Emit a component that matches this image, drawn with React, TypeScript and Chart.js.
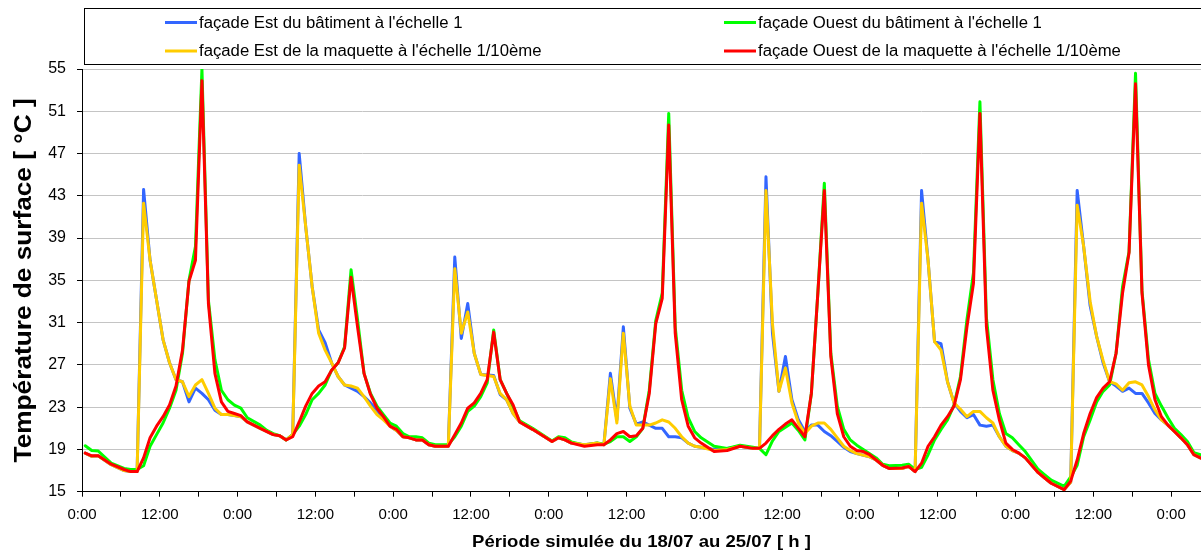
import React, { useEffect, useRef } from "react";
import { Chart, registerables } from "chart.js";

Chart.register(...registerables);

const FONT = '"Liberation Sans", Arial, Helvetica, sans-serif';

// ---- data (hour of simulated period, surface temperature °C) ----
const estBatiment: [number, number][] = [
  [0.5,18.65],[1.5,18.35],[2.5,18.4],[4.5,17.55],[6.5,17.0],[7.5,16.9],[8.5,16.9],[9.5,43.6],[10.5,36.9],[12.5,29.4],[13.5,27.2],[14.5,25.6],[15.5,25.4],[16.5,23.5],[17.5,24.8],[18.5,24.3],[19.5,23.7],[20.5,22.7],[21.5,22.3],[22.5,22.3],[23.5,22.2],[24.5,22.1],[25.5,21.6],[27.5,21.0],[29.5,20.4],[30.5,20.3],[31.5,19.9],[32.5,20.4],[33.5,47.0],[34.5,40.1],[35.5,34.4],[36.5,30.3],[37.5,29.1],[38.5,27.2],[39.5,25.9],[40.5,25.1],[41.5,24.8],[42.5,24.5],[43.5,24.0],[44.5,23.4],[45.5,22.7],[46.5,22.0],[47.5,21.2],[48.5,20.8],[49.5,20.2],[50.5,20.1],[51.5,19.9],[52.5,19.9],[53.5,19.45],[54.5,19.3],[56.5,19.3],[57.5,37.2],[58.5,29.5],[59.5,32.8],[60.5,28.1],[61.5,26.1],[63.5,26.0],[64.5,24.2],[65.5,23.7],[66.5,22.4],[67.5,21.6],[69.5,20.9],[72.5,19.75],[73.5,20.1],[74.5,19.9],[75.5,19.6],[77.5,19.45],[79.5,19.6],[80.5,19.45],[81.5,26.2],[82.5,21.8],[83.5,30.6],[84.5,22.9],[85.5,21.4],[86.5,21.6],[87.5,21.3],[88.5,21.0],[89.5,21.0],[90.5,20.2],[91.5,20.2],[92.5,20.1],[93.5,19.6],[94.5,19.3],[95.5,19.2],[97.5,19.0],[99.5,19.1],[101.5,19.3],[103.5,19.1],[104.5,19.1],[105.5,44.8],[106.5,30.0],[107.5,24.5],[108.5,27.8],[109.5,23.7],[110.5,21.8],[111.5,20.7],[112.5,21.3],[113.5,21.3],[114.5,20.7],[115.5,20.3],[116.5,19.75],[117.5,19.2],[118.5,18.8],[119.5,18.6],[121.5,18.3],[122.5,18.0],[123.5,17.5],[124.5,17.2],[126.5,17.2],[127.5,17.4],[128.5,16.9],[129.5,43.5],[130.5,36.9],[131.5,29.2],[132.5,29.0],[133.5,25.4],[134.5,23.4],[135.5,22.6],[136.5,22.0],[137.5,22.3],[138.5,21.3],[139.5,21.2],[140.5,21.3],[141.5,20.2],[142.5,19.3],[143.5,18.9],[144.5,18.65],[145.5,18.2],[147.5,16.8],[148.5,16.3],[149.5,15.8],[151.5,15.2],[152.5,15.9],[153.5,43.5],[154.5,38.2],[155.5,32.6],[156.5,29.7],[157.5,27.2],[158.5,25.4],[159.5,25.0],[160.5,24.5],[161.5,24.8],[162.5,24.3],[163.5,24.3],[164.5,23.4],[165.5,22.4],[166.5,21.8],[167.5,21.3],[168.5,20.7],[169.5,20.1],[170.5,19.45],[171.5,18.5],[172.5,18.2],[173.5,18.0],
];

const ouestBatiment: [number, number][] = [
  [0.5,19.35],[1.5,18.9],[2.5,18.85],[4.5,17.7],[6.5,17.2],[7.5,17.1],[8.5,17.1],[9.5,17.45],[10.5,19.3],[11.5,20.4],[12.5,21.5],[13.5,22.9],[14.5,24.6],[15.5,28.1],[16.5,35.0],[17.5,38.2],[18.5,55.0],[19.5,33.1],[20.5,27.5],[21.5,24.6],[22.5,23.7],[23.5,23.2],[24.5,22.9],[25.5,22.0],[27.5,21.3],[28.5,20.8],[29.5,20.5],[30.5,20.3],[31.5,19.9],[32.5,20.4],[33.5,21.2],[34.5,22.3],[35.5,23.7],[36.5,24.3],[37.5,25.1],[38.5,26.5],[39.5,27.2],[40.5,28.7],[41.5,36.0],[42.5,31.3],[43.5,26.2],[44.5,24.3],[45.5,23.1],[46.5,22.3],[47.5,21.5],[48.5,21.2],[49.5,20.5],[50.5,20.2],[51.5,20.2],[52.5,20.1],[53.5,19.6],[54.5,19.45],[56.5,19.45],[57.5,20.2],[58.5,21.2],[59.5,22.6],[60.5,23.1],[61.5,24.0],[62.5,25.3],[63.5,30.3],[64.5,25.6],[65.5,24.3],[66.5,23.0],[67.5,21.7],[69.5,21.0],[72.5,19.8],[73.5,20.2],[74.5,20.1],[75.5,19.7],[77.5,19.4],[79.5,19.6],[80.5,19.5],[81.5,19.75],[82.5,20.2],[83.5,20.2],[84.5,19.75],[85.5,20.2],[86.5,21.0],[87.5,24.6],[88.5,31.2],[89.5,33.8],[90.5,50.8],[91.5,30.6],[92.5,24.6],[93.5,22.0],[94.5,20.7],[95.5,20.1],[97.5,19.3],[99.5,19.1],[101.5,19.4],[103.5,19.2],[104.5,19.1],[105.5,18.5],[106.5,19.8],[107.5,20.7],[108.5,21.1],[109.5,21.5],[110.5,20.8],[111.5,19.9],[112.5,24.3],[113.5,33.8],[114.5,44.2],[115.5,28.1],[116.5,23.1],[117.5,20.9],[118.5,19.9],[119.5,19.4],[121.5,18.6],[122.5,18.2],[123.5,17.6],[124.5,17.45],[126.5,17.5],[127.5,17.6],[128.5,17.1],[129.5,17.3],[130.5,18.5],[131.5,19.9],[132.5,20.9],[133.5,21.8],[134.5,23.2],[135.5,25.9],[136.5,31.3],[137.5,35.7],[138.5,51.9],[139.5,31.5],[140.5,25.6],[141.5,22.4],[142.5,20.5],[143.5,20.1],[144.5,19.45],[145.5,18.8],[147.5,17.1],[148.5,16.6],[149.5,16.1],[151.5,15.5],[152.5,16.4],[153.5,17.5],[154.5,20.2],[155.5,21.8],[156.5,23.5],[157.5,24.5],[158.5,25.1],[159.5,28.1],[160.5,34.4],[161.5,37.7],[162.5,54.6],[163.5,34.0],[164.5,27.5],[165.5,24.3],[166.5,23.1],[167.5,22.0],[168.5,21.0],[169.5,20.4],[170.5,19.75],[171.5,18.7],[172.5,18.5],[173.5,18.3],
];

const estMaquette: [number, number][] = [
  [0.5,18.65],[1.5,18.35],[2.5,18.4],[4.5,17.55],[6.5,17.0],[7.5,16.9],[8.5,16.9],[9.5,42.3],[10.5,36.9],[12.5,29.4],[13.5,27.2],[14.5,25.6],[15.5,25.4],[16.5,24.0],[17.5,25.1],[18.5,25.6],[19.5,24.3],[20.5,22.9],[21.5,22.3],[22.5,22.3],[23.5,22.2],[24.5,22.1],[25.5,21.6],[27.5,21.0],[29.5,20.4],[30.5,20.3],[31.5,19.9],[32.5,20.4],[33.5,45.9],[34.5,40.1],[35.5,34.4],[36.5,30.0],[37.5,28.4],[38.5,27.2],[39.5,25.9],[40.5,25.1],[41.5,25.0],[42.5,24.8],[43.5,24.0],[44.5,23.1],[45.5,22.3],[46.5,21.8],[47.5,21.2],[48.5,20.8],[49.5,20.2],[50.5,20.1],[51.5,19.9],[52.5,19.9],[53.5,19.45],[54.5,19.3],[56.5,19.3],[57.5,36.1],[58.5,30.0],[59.5,32.0],[60.5,28.1],[61.5,26.1],[63.5,25.9],[64.5,24.3],[65.5,23.7],[66.5,22.4],[67.5,21.6],[69.5,20.9],[72.5,19.75],[73.5,20.1],[74.5,19.9],[75.5,19.6],[77.5,19.45],[79.5,19.6],[80.5,19.45],[81.5,25.7],[82.5,21.5],[83.5,30.0],[84.5,23.1],[85.5,21.3],[86.5,21.3],[87.5,21.3],[88.5,21.5],[89.5,21.8],[90.5,21.6],[91.5,21.0],[92.5,20.2],[93.5,19.6],[94.5,19.3],[95.5,19.2],[97.5,18.9],[99.5,19.0],[101.5,19.3],[103.5,19.1],[104.5,19.1],[105.5,43.5],[106.5,30.9],[107.5,24.5],[108.5,26.7],[109.5,23.4],[110.5,21.5],[111.5,20.5],[112.5,21.2],[113.5,21.5],[114.5,21.5],[115.5,20.9],[116.5,20.1],[117.5,19.3],[118.5,18.9],[119.5,18.6],[121.5,18.3],[122.5,18.0],[123.5,17.5],[124.5,17.2],[126.5,17.2],[127.5,17.4],[128.5,16.9],[129.5,42.3],[130.5,36.9],[131.5,29.2],[132.5,28.4],[133.5,25.4],[134.5,23.4],[135.5,22.8],[136.5,22.1],[137.5,22.6],[138.5,22.6],[139.5,22.0],[140.5,21.5],[141.5,20.2],[142.5,19.3],[143.5,18.9],[144.5,18.65],[145.5,18.2],[147.5,16.8],[148.5,16.3],[149.5,15.8],[151.5,15.2],[152.5,15.9],[153.5,42.1],[154.5,38.2],[155.5,33.0],[156.5,29.7],[157.5,27.4],[158.5,25.4],[159.5,25.2],[160.5,24.6],[161.5,25.3],[162.5,25.4],[163.5,25.1],[164.5,24.0],[165.5,22.75],[166.5,21.8],[167.5,21.3],[168.5,20.7],[169.5,20.1],[170.5,19.45],[171.5,18.5],[172.5,18.2],[173.5,18.0],
];

const ouestMaquette: [number, number][] = [
  [0.5,18.65],[1.5,18.4],[2.5,18.4],[4.5,17.6],[6.5,17.1],[7.5,16.9],[8.5,16.9],[9.5,18.2],[10.5,20.1],[11.5,21.2],[12.5,22.1],[13.5,23.2],[14.5,25.0],[15.5,28.4],[16.5,34.9],[17.5,36.9],[18.5,53.9],[19.5,32.8],[20.5,26.2],[21.5,23.5],[22.5,22.6],[23.5,22.4],[24.5,22.2],[25.5,21.6],[27.5,21.0],[29.5,20.4],[30.5,20.3],[31.5,19.9],[32.5,20.2],[33.5,21.6],[34.5,23.1],[35.5,24.3],[36.5,25.0],[37.5,25.4],[38.5,26.5],[39.5,27.2],[40.5,28.6],[41.5,35.3],[42.5,30.6],[43.5,26.2],[44.5,24.2],[45.5,22.9],[46.5,22.1],[47.5,21.2],[48.5,20.9],[49.5,20.2],[50.5,20.1],[51.5,19.9],[52.5,19.9],[53.5,19.45],[54.5,19.3],[56.5,19.3],[57.5,20.4],[58.5,21.5],[59.5,22.9],[60.5,23.4],[61.5,24.3],[62.5,25.6],[63.5,30.1],[64.5,25.6],[65.5,24.3],[66.5,23.2],[67.5,21.6],[69.5,20.9],[72.5,19.75],[73.5,20.1],[74.5,19.9],[75.5,19.6],[77.5,19.3],[79.5,19.45],[80.5,19.45],[81.5,19.9],[82.5,20.5],[83.5,20.7],[84.5,20.2],[85.5,20.3],[86.5,21.0],[87.5,24.3],[88.5,30.9],[89.5,33.3],[90.5,49.7],[91.5,30.0],[92.5,23.7],[93.5,21.2],[94.5,20.1],[95.5,19.6],[97.5,18.8],[99.5,18.9],[101.5,19.3],[103.5,19.1],[104.5,19.1],[105.5,19.6],[106.5,20.3],[107.5,20.9],[108.5,21.4],[109.5,21.8],[110.5,21.0],[111.5,20.2],[112.5,24.3],[113.5,33.8],[114.5,43.5],[115.5,27.8],[116.5,22.4],[117.5,20.2],[118.5,19.3],[119.5,18.9],[120.5,18.8],[121.5,18.5],[122.5,18.0],[123.5,17.5],[124.5,17.2],[126.5,17.25],[127.5,17.4],[128.5,16.9],[129.5,17.7],[130.5,19.3],[131.5,20.2],[132.5,21.3],[133.5,22.1],[134.5,23.1],[135.5,25.6],[136.5,30.6],[137.5,34.7],[138.5,50.8],[139.5,30.6],[140.5,24.6],[141.5,21.8],[142.5,19.6],[143.5,19.0],[144.5,18.65],[145.5,18.2],[147.5,16.8],[148.5,16.3],[149.5,15.8],[151.5,15.2],[152.5,16.0],[153.5,18.0],[154.5,20.5],[155.5,22.4],[156.5,23.9],[157.5,24.8],[158.5,25.4],[159.5,28.1],[160.5,33.8],[161.5,37.6],[162.5,53.6],[163.5,33.8],[164.5,27.0],[165.5,23.7],[166.5,22.1],[167.5,21.3],[168.5,20.7],[169.5,20.1],[170.5,19.45],[171.5,18.5],[172.5,18.2],[173.5,18.0],
];

const seriesLabels = [
  "façade Est du bâtiment à l'échelle 1",
  "façade Ouest du bâtiment à l'échelle 1",
  "façade Est de la maquette à l'échelle 1/10ème",
  "façade Ouest de la maquette à l'échelle 1/10ème",
];
const seriesColors = ["#3366FF", "#00FF00", "#FFCC00", "#FF0000"];
const seriesData = [estBatiment, ouestBatiment, estMaquette, ouestMaquette];

const xTickValues = [0, 6, 12, 18, 24, 30, 36, 42, 48, 54, 60, 66, 72, 78, 84, 90, 96, 102, 108, 114, 120, 126, 132, 138, 144, 150, 156, 162, 168];
const xTickNames: Record<number, string> = { 0: "0:00", 12: "12:00" };
const xMin = 0;
const xMax = 172.6;
const yMin = 15;
const yMax = 55;
const yStep = 4;

const xTitle = "Période simulée du 18/07 au 25/07 [ h ]";
const yTitle = "Température de surface [ °C ]";

// draws text horizontally stretched (the reference text is rendered wider than the font's natural advance)
function stretchedText(ctx: CanvasRenderingContext2D, text: string, x: number, y: number, sx: number, align: "left" | "center") {
  const w = ctx.measureText(text).width;
  ctx.save();
  ctx.translate(x, y);
  ctx.scale(sx, 1);
  ctx.textAlign = "left";
  ctx.fillText(text, align === "center" ? -w / 2 : 0, 0);
  ctx.restore();
}

const chartDecor = {
  id: "chartDecor",
  afterDraw(chart: any) {
    const ctx = chart.ctx as CanvasRenderingContext2D;
    const area = chart.chartArea;
    ctx.save();
    // legend box
    ctx.strokeStyle = "#000";
    ctx.lineWidth = 1;
    ctx.strokeRect(84.5, 8.5, 1200, 56);
    const slots = [
      { x: 165, y: 22.5 },
      { x: 724, y: 22.5 },
      { x: 165, y: 51 },
      { x: 724, y: 51 },
    ];
    ctx.font = `16px ${FONT}`;
    ctx.textBaseline = "middle";
    slots.forEach((s, i) => {
      ctx.strokeStyle = seriesColors[i];
      ctx.lineWidth = 3;
      ctx.beginPath();
      ctx.moveTo(s.x, s.y);
      ctx.lineTo(s.x + 32, s.y);
      ctx.stroke();
      ctx.fillStyle = "#000";
      stretchedText(ctx, seriesLabels[i], s.x + 34, s.y + 1, 1.045, "left");
    });
    // axis titles
    ctx.fillStyle = "#000";
    ctx.font = `bold 17px ${FONT}`;
    ctx.textBaseline = "middle";
    stretchedText(ctx, xTitle, (area.left + area.right) / 2, 542, 1.09, "center");
    ctx.font = `bold 23px ${FONT}`;
    ctx.save();
    ctx.translate(25, (area.top + area.bottom) / 2);
    ctx.rotate(-Math.PI / 2);
    stretchedText(ctx, yTitle, 0, 0, 1.14, "center");
    ctx.restore();
    ctx.restore();
  },
};

export default function App() {
  const canvasRef = useRef<HTMLCanvasElement | null>(null);

  useEffect(() => {
    if (!canvasRef.current) return;
    const drawOrder = [4, 3, 2, 1];
    const chart = new Chart(canvasRef.current, {
      type: "line",
      data: {
        datasets: seriesData.map((d, i) => ({
          label: seriesLabels[i],
          data: d.map(([x, y]) => ({ x, y })),
          borderColor: seriesColors[i],
          backgroundColor: seriesColors[i],
          borderWidth: 3,
          pointRadius: 0,
          tension: 0,
          fill: false,
          borderJoinStyle: "round" as const,
          borderCapStyle: "round" as const,
          order: drawOrder[i],
        })),
      },
      options: {
        responsive: false,
        animation: false,
        devicePixelRatio: 1,
        layout: { padding: { top: 69, left: 0, right: 0, bottom: 0 } },
        plugins: {
          legend: { display: false },
          tooltip: { enabled: false },
        },
        scales: {
          x: {
            type: "linear",
            min: xMin,
            max: xMax,
            afterBuildTicks: (scale: any) => {
              scale.ticks = xTickValues.map((v) => ({ value: v }));
            },
            afterFit: (scale: any) => {
              scale.height = 61.3;
            },
            ticks: {
              autoSkip: false,
              maxRotation: 0,
              minRotation: 0,
              padding: 9,
              color: "#000",
              font: { family: FONT, size: 15 },
              callback: (v: any) => xTickNames[Number(v) % 24] ?? "",
            },
            grid: {
              drawOnChartArea: false,
              drawTicks: true,
              tickLength: 5,
              color: "#000",
              tickColor: "#000",
            },
            border: { display: true, color: "#000", width: 1 },
            title: { display: false },
          },
          y: {
            type: "linear",
            min: yMin,
            max: yMax,
            afterFit: (scale: any) => {
              scale.width = 82;
            },
            ticks: {
              stepSize: yStep,
              padding: 11,
              color: "#000",
              font: { family: FONT, size: 16 },
            },
            grid: {
              color: "#c4c4c4",
              tickColor: "#000",
              tickLength: 5,
              lineWidth: 1,
            },
            border: { display: true, color: "#000", width: 1 },
            title: { display: false },
          },
        },
      },
      plugins: [chartDecor],
    });
    return () => chart.destroy();
  }, []);

  return (
    <div style={{ position: "fixed", left: 0, top: 0, width: 1201, height: 553, background: "#fff", overflow: "hidden" }}>
      <canvas ref={canvasRef} width={1201} height={553} style={{ display: "block" }} />
    </div>
  );
}
